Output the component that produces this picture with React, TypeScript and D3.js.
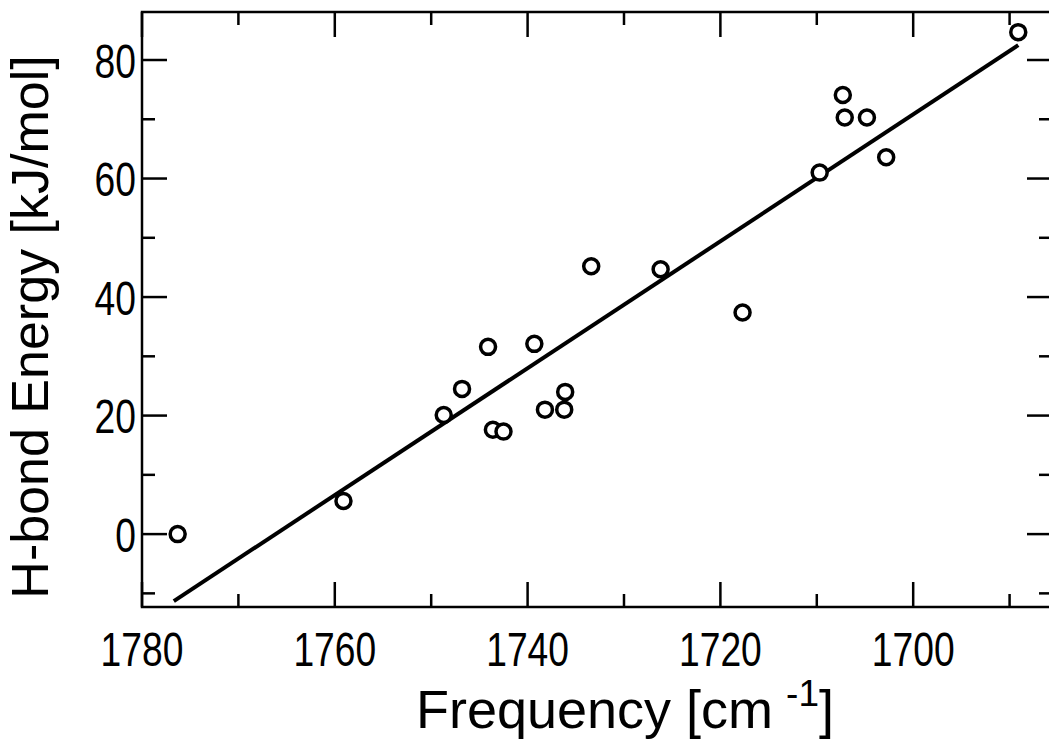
import React from "react";
import * as d3 from "d3";

// measured points: frequency (cm-1) vs H-bond energy (kJ/mol)
const freq = [1776.3, 1759.1, 1748.7, 1746.8, 1744.1, 1743.6, 1742.5, 1739.3, 1738.2, 1736.2, 1736.1, 1733.4, 1726.2, 1717.7, 1709.7, 1707.3, 1707.1, 1704.8, 1702.8, 1689.1];
const energy = [0, 5.6, 20.1, 24.5, 31.6, 17.6, 17.3, 32.1, 21.0, 21.0, 24.0, 45.2, 44.7, 37.4, 61.0, 74.1, 70.3, 70.3, 63.6, 84.7];

// fitted line end points
const fitFreq = [1776.7, 1689.1];
const fitEnergy = [-11.3, 82.5];

const xMajor = [1780, 1760, 1740, 1720, 1700];
const xMinor = [1770, 1750, 1730, 1710, 1690];
const yMajor = [0, 20, 40, 60, 80];
const yMinor = [-10, 10, 30, 50, 70];

const W = 1049;
const H = 740;
const left = 142;
const right = 1052;
const top = 12;
const bottom = 607;

const FONT = "'Liberation Sans', Arial, Helvetica, sans-serif";

export default function App() {
  const x = d3.scaleLinear().domain([1780, 1685.6]).range([left, right]);
  const y = d3.scaleLinear().domain([-12.3, 88.1]).range([bottom, top]);

  const line = d3
    .line<number>()
    .x((d) => x(fitFreq[d]))
    .y((d) => y(fitEnergy[d]));

  const major = 25;
  const minor = 13;
  // tick labels use a narrow, tall face: squeeze horizontally
  const sx = 0.76;

  return (
    <svg
      width={W}
      height={H}
      style={{ position: "absolute", left: 0, top: 0, background: "#fff" }}
      fontFamily={FONT}
    >
      <rect x={0} y={0} width={W} height={H} fill="#fff" />
      {/* frame */}
      <rect
        x={left}
        y={top}
        width={right - left}
        height={bottom - top}
        fill="none"
        stroke="#000"
        strokeWidth={2.5}
      />
      {/* ticks, all pointing inward */}
      <g stroke="#000" strokeWidth={2.5}>
        {xMajor.map((v) => (
          <g key={"xM" + v}>
            <line x1={x(v)} x2={x(v)} y1={bottom} y2={bottom - major} />
            <line x1={x(v)} x2={x(v)} y1={top} y2={top + major} />
          </g>
        ))}
        {xMinor.map((v) => (
          <g key={"xm" + v}>
            <line x1={x(v)} x2={x(v)} y1={bottom} y2={bottom - minor} />
            <line x1={x(v)} x2={x(v)} y1={top} y2={top + minor} />
          </g>
        ))}
        {yMajor.map((v) => (
          <g key={"yM" + v}>
            <line x1={left} x2={left + major} y1={y(v)} y2={y(v)} />
            <line x1={right} x2={right - major} y1={y(v)} y2={y(v)} />
          </g>
        ))}
        {yMinor.map((v) => (
          <g key={"ym" + v}>
            <line x1={left} x2={left + minor} y1={y(v)} y2={y(v)} />
            <line x1={right} x2={right - minor} y1={y(v)} y2={y(v)} />
          </g>
        ))}
      </g>
      {/* tick labels */}
      <g fontSize={49} fill="#000">
        {xMajor.map((v) => (
          <text
            key={"xl" + v}
            transform={`translate(${x(v)},666) scale(${sx},1)`}
            textAnchor="middle"
          >
            {v}
          </text>
        ))}
        {yMajor.map((v) => (
          <text
            key={"yl" + v}
            transform={`translate(${left - 6},${y(v)}) scale(${sx},1)`}
            dy="0.36em"
            textAnchor="end"
          >
            {v}
          </text>
        ))}
      </g>
      {/* fit line */}
      <path d={line([0, 1]) || ""} fill="none" stroke="#000" strokeWidth={4} />
      {/* points */}
      <g fill="#fff" stroke="#000" strokeWidth={3.5}>
        {freq.map((f, i) => (
          <circle key={i} cx={x(f)} cy={y(energy[i])} r={7.5} />
        ))}
      </g>
      {/* axis titles */}
      <text x={625} y={728} fontSize={54} textAnchor="middle" fill="#000">
        Frequency [cm
        <tspan dx={13} dy={-22} fontSize={37}>-1</tspan>
        <tspan dy={22}>]</tspan>
      </text>
      <text
        transform={`translate(48,327) rotate(-90)`}
        fontSize={52}
        textAnchor="middle"
        fill="#000"
      >
        H-bond Energy [kJ/mol]
      </text>
    </svg>
  );
}
